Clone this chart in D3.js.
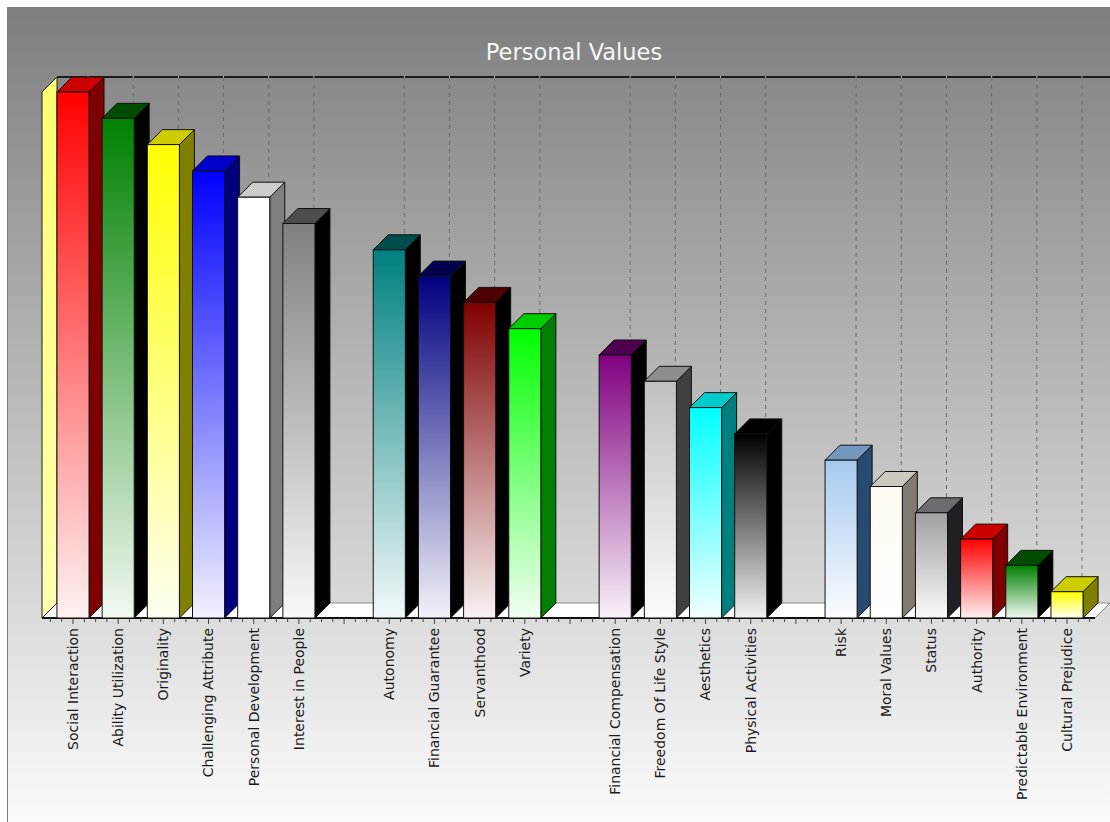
<!doctype html>
<html>
<head>
<style>
  body { margin: 0; background: #fff; }
  svg { display: block; }
  .lbl { font-family: "DejaVu Sans", sans-serif; font-size: 14px; fill: #1a1a1a; }
  .title { font-family: "DejaVu Sans", sans-serif; font-size: 22.5px; fill: #f6f6f6; }
</style>
<script src="https://d3js.org/d3.v7.min.js"></script>
</head>
<body>
<script>

// categories, blank entries are the spacer slots between groups
var categories = ["Social Interaction", "Ability Utilization", "Originality", "Challenging Attribute",
  "Personal Development", "Interest in People", "",
  "Autonomy", "Financial Guarantee", "Servanthood", "Variety", "",
  "Financial Compensation", "Freedom Of Life Style", "Aesthetics", "Physical Activities", "",
  "Risk", "Moral Values", "Status", "Authority", "Predictable Environment", "Cultural Prejudice"];

var values = [20, 19, 18, 17, 16, 15, null,
  14, 13, 12, 11, null,
  10, 9, 8, 7, null,
  6, 5, 4, 3, 2, 1];

var colors = ["#ff0000", "#008000", "#ffff00", "#0000ff", "#ffffff", "#808080", null,
  "#008080", "#000080", "#800000", "#00ff00", null,
  "#800080", "#c0c0c0", "#00ffff", "#000000", null,
  "#a6caf0", "#fffbf0", "#a0a0a4", "#ff0000", "#008000", "#ffff00"];

var yMax = 20;
var titleText = "Personal Values";

var W = 1110, H = 822;
var depth = 15;

var svg = d3.select("body").append("svg")
  .attr("width", W)
  .attr("height", H);

var defs = svg.append("defs");

var bg = defs.append("linearGradient").attr("id", "bg")
  .attr("x1", 0).attr("y1", 0).attr("x2", 0).attr("y2", 1);
bg.append("stop").attr("offset", 0).attr("stop-color", "#7e7e7e");
bg.append("stop").attr("offset", 1).attr("stop-color", "#fbfbfb");

var wallG = defs.append("linearGradient").attr("id", "wall")
  .attr("x1", 0).attr("y1", 0).attr("x2", 0).attr("y2", 1);
wallG.append("stop").attr("offset", 0).attr("stop-color", "#ffff70");
wallG.append("stop").attr("offset", 1).attr("stop-color", "#ffffb0");

// frame
svg.append("rect")
  .attr("x", 7).attr("y", 7)
  .attr("width", W - 7).attr("height", H - 7)
  .attr("fill", "url(#bg)");
svg.append("line")
  .attr("x1", 7.5).attr("x2", 7.5).attr("y1", 7).attr("y2", H)
  .attr("stroke", "#7878a8");

svg.append("text")
  .attr("class", "title")
  .attr("x", 574).attr("y", 60)
  .attr("text-anchor", "middle")
  .text(titleText);

var x = d3.scaleBand()
  .domain(d3.range(categories.length))
  .range([50.4, 1089.6])
  .paddingInner(0.29)
  .paddingOuter(0.145);

var y = d3.scaleLinear().domain([0, yMax]).range([618, 92]);

var base = y(0);
var left = x.range()[0] - 8.4;
var right = x.range()[1] + 5.4;

// floor
svg.append("polygon")
  .attr("points", [[left, base], [right, base], [right + depth, base - depth], [left + depth, base - depth]].join(" "))
  .attr("fill", "#ffffff")
  .attr("stroke", "#8a8a8a")
  .attr("stroke-width", 1);

// back wall grid lines
var idx = d3.range(categories.length).filter(function(i) { return categories[i] !== ""; });

svg.selectAll(".grid")
  .data(idx)
  .enter().append("line")
  .attr("class", "grid")
  .attr("x1", function(i) { return x(i) + x.bandwidth() / 2 + depth; })
  .attr("x2", function(i) { return x(i) + x.bandwidth() / 2 + depth; })
  .attr("y1", y(yMax) - depth)
  .attr("y2", base - depth)
  .attr("stroke", "#6e6e6e")
  .attr("stroke-dasharray", "4,4")
  .attr("stroke-width", 1);

// back top line
svg.append("line")
  .attr("x1", left + depth).attr("x2", W)
  .attr("y1", y(yMax) - depth).attr("y2", y(yMax) - depth)
  .attr("stroke", "#1c1c1c")
  .attr("stroke-width", 2);

svg.selectAll(".gtick")
  .data(idx)
  .enter().append("line")
  .attr("x1", function(i) { return x(i) + x.bandwidth() / 2 + depth; })
  .attr("x2", function(i) { return x(i) + x.bandwidth() / 2 + depth; })
  .attr("y1", y(yMax) - depth - 1)
  .attr("y2", y(yMax) - depth + 1)
  .attr("stroke", "#b8b8b8");

// left wall
svg.append("polygon")
  .attr("points", [[left, base], [left, y(yMax)], [left + depth, y(yMax) - depth], [left + depth, base - depth]].join(" "))
  .attr("fill", "url(#wall)")
  .attr("stroke", "#222")
  .attr("stroke-width", 1);

// baseline
svg.append("line")
  .attr("x1", left).attr("x2", right)
  .attr("y1", base).attr("y2", base)
  .attr("stroke", "#111")
  .attr("stroke-width", 2);

// small ticks under the floor edge
var step = x.step();
var ticks = d3.range(0, categories.length * 4 + 1).map(function(k) { return x.range()[0] + k * step / 4; });
svg.selectAll(".tk")
  .data(ticks)
  .enter().append("line")
  .attr("x1", function(d) { return d; })
  .attr("x2", function(d) { return d; })
  .attr("y1", base)
  .attr("y2", function(d, k) { return base + (k % 4 === 2 ? 6 : 4); })
  .attr("stroke", "#444");

function shade(c, amt) {
  var r = d3.rgb(c);
  return d3.rgb(Math.max(0, r.r - amt), Math.max(0, r.g - amt), Math.max(0, r.b - amt)).formatHex();
}

var bars = idx.map(function(i) { return { i: i, v: values[i], c: colors[i] }; });

bars.forEach(function(d) {
  var g = defs.append("linearGradient").attr("id", "g" + d.i)
    .attr("x1", 0).attr("y1", 0).attr("x2", 0).attr("y2", 1);
  g.append("stop").attr("offset", 0).attr("stop-color", d.c);
  g.append("stop").attr("offset", 1).attr("stop-color", d3.interpolateRgb(d.c, "#ffffff")(0.95));
});

var bw = x.bandwidth();

var bar = svg.selectAll(".bar")
  .data(bars)
  .enter().append("g")
  .attr("class", "bar");

bar.append("polygon")
  .attr("points", function(d) {
    var bx = x(d.i), t = y(d.v);
    return [[bx + bw, t], [bx + bw + depth, t - depth], [bx + bw + depth, base - depth], [bx + bw, base]].join(" ");
  })
  .attr("fill", function(d) { return shade(d.c, 128); })
  .attr("stroke", "#111")
  .attr("stroke-width", 1);

bar.append("polygon")
  .attr("points", function(d) {
    var bx = x(d.i), t = y(d.v);
    return [[bx, t], [bx + depth, t - depth], [bx + bw + depth, t - depth], [bx + bw, t]].join(" ");
  })
  .attr("fill", function(d) { return shade(d.c, 51); })
  .attr("stroke", "#111")
  .attr("stroke-width", 1);

bar.append("rect")
  .attr("x", function(d) { return x(d.i); })
  .attr("y", function(d) { return y(d.v); })
  .attr("width", bw)
  .attr("height", function(d) { return base - y(d.v); })
  .attr("fill", function(d) { return "url(#g" + d.i + ")"; })
  .attr("stroke", "#111")
  .attr("stroke-width", 1);

// category labels
svg.selectAll(".lbl")
  .data(idx)
  .enter().append("text")
  .attr("class", "lbl")
  .attr("transform", function(i) { return "translate(" + (x(i) + bw / 2) + "," + (base + 10) + ") rotate(-90)"; })
  .attr("text-anchor", "end")
  .attr("dy", "0.35em")
  .text(function(i) { return categories[i]; });

</script>
</body>
</html>
